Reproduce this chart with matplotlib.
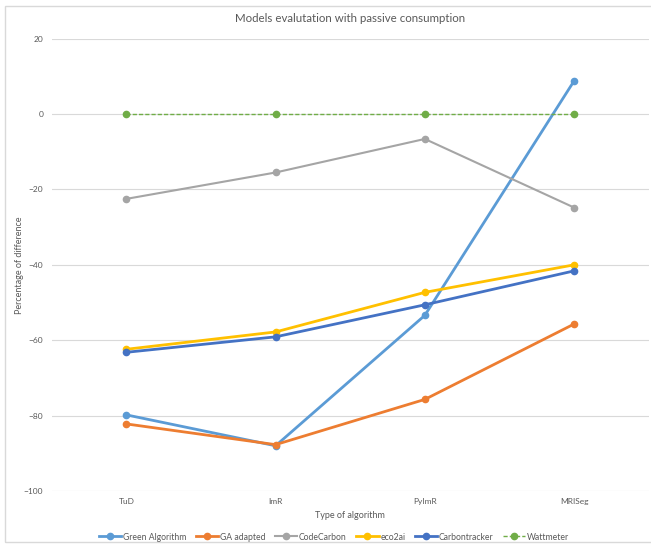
import matplotlib
matplotlib.use("Agg")
import matplotlib.pyplot as plt
from matplotlib.patches import Rectangle

# Values
algorithms = ["TuD", "ImR", "PyImR", "MRISeg"]
green_algorithm = [-79.8, -88.0, -53.4, 8.8]
ga_adapted = [-82.2, -87.7, -75.7, -55.7]
code_carbon = [-22.5, -15.5, -6.6, -24.8]
eco2ai = [-62.4, -57.8, -47.3, -40.0]
carbontracker = [-63.2, -59.1, -50.6, -41.6]
wattmeter = [0, 0, 0, 0]

y_ticks = [20, 0, -20, -40, -60, -80, -100]

TEXT = "#595959"
GRID = "#D9D9D9"


def main():
    plt.rcParams['font.family'] = ['Lato', 'DejaVu Sans']
    fig = plt.figure(figsize=(6.51, 5.48), dpi=100)
    ax = fig.add_axes([0.0794, 0.104, 0.9171, 0.8254])

    # light frame round the chart, cut off on the right like the original
    fig.patches.append(Rectangle((5 / 651, 1 - 542 / 548), 660 / 651, 536 / 548,
                                 transform=fig.transFigure, fill=False,
                                 edgecolor="#D9D9D9", linewidth=1))

    x = range(len(algorithms))
    series = [
        ("Green Algorithm", green_algorithm, "#5B9BD5", 2.0, "-"),
        ("GA adapted", ga_adapted, "#ED7D31", 2.0, "-"),
        ("CodeCarbon", code_carbon, "#A5A5A5", 1.5, "-"),
        ("eco2ai", eco2ai, "#FFC000", 2.0, "-"),
        ("Carbontracker", carbontracker, "#4472C4", 2.0, "-"),
        ("Wattmeter", wattmeter, "#70AD47", 1.0, (0, (3, 1.5))),
    ]
    for name, vals, color, lw, ls in series:
        ax.plot(x, vals, color=color, linewidth=lw, linestyle=ls,
                marker="o", markersize=4.5, markerfacecolor=color,
                markeredgecolor=color, label=name, zorder=3)

    ax.set_xlim(-0.5, len(algorithms) - 0.5)
    ax.set_ylim(-100, 20)
    ax.set_yticks(y_ticks)
    ax.set_xticks(list(x))
    ax.set_xticklabels(algorithms)
    ax.tick_params(axis="both", length=0, labelsize=6, labelcolor=TEXT)
    ax.tick_params(axis="y", pad=6)
    ax.tick_params(axis="x", pad=5)
    ax.grid(axis="y", color=GRID, linewidth=0.8)
    ax.set_axisbelow(True)
    for spine in ax.spines.values():
        spine.set_visible(False)

    ax.set_title("Models evalutation with passive consumption",
                 fontsize=8.3, color=TEXT, pad=12)
    ax.set_xlabel("Type of algorithm", fontsize=6.5, color=TEXT, labelpad=4)
    ax.set_ylabel("Percentage of difference", fontsize=6.5, color=TEXT, labelpad=0)

    fig.legend(loc="center", bbox_to_anchor=(334 / 651, 1 - 537 / 548),
               ncol=6, frameon=False, fontsize=6.2, labelcolor=TEXT,
               handlelength=2.6, handletextpad=0.2, columnspacing=1.1)

    fig.savefig("out.png", dpi=100)


if __name__ == "__main__":
    main()
